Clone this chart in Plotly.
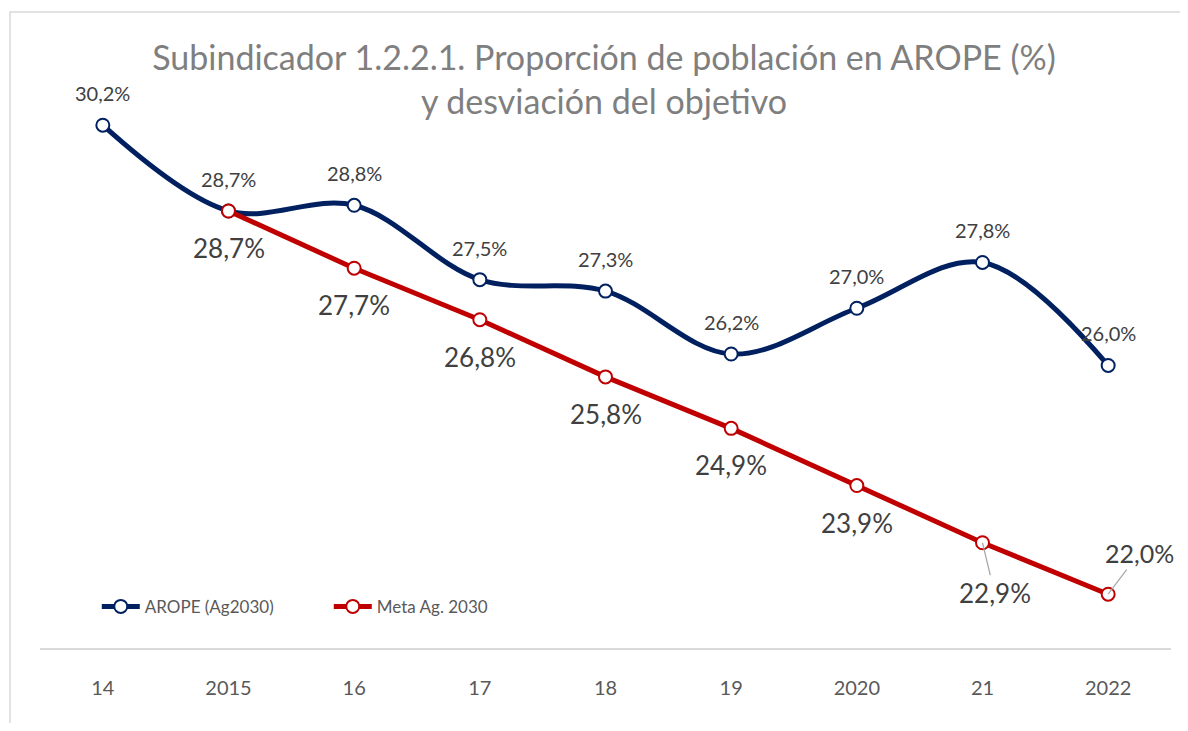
import plotly.graph_objects as go

years = ["14", "2015", "16", "17", "18", "19", "2020", "21", "2022"]
arope = [30.2, 28.7, 28.8, 27.5, 27.3, 26.2, 27.0, 27.8, 26.0]
meta_years = ["2015", "16", "17", "18", "19", "2020", "21", "2022"]
meta = [28.7, 27.7, 26.8, 25.8, 24.9, 23.9, 22.9, 22.0]

NAVY = "#002060"
RED = "#C00000"
TXT = "#404040"
FONT = "Lato"

W, H = 1172, 715


def fmt(v):
    return f"{v:.1f}".replace(".", ",") + "%"


fig = go.Figure()
fig.add_trace(go.Scatter(
    x=years, y=arope, name="AROPE (Ag2030)", mode="lines+markers",
    line=dict(color=NAVY, width=5, shape="spline", smoothing=1.0),
    marker=dict(symbol="circle", size=13, color="white", line=dict(color=NAVY, width=2)),
    hoverinfo="skip",
))
fig.add_trace(go.Scatter(
    x=meta_years, y=meta, name="Meta Ag. 2030", mode="lines+markers",
    line=dict(color=RED, width=5),
    marker=dict(symbol="circle", size=13, color="white", line=dict(color=RED, width=2)),
    hoverinfo="skip",
))

annotations = []
for x, v in zip(years, arope):
    annotations.append(dict(x=years.index(x), y=v, text=fmt(v), showarrow=False, yshift=32,
                            font=dict(family=FONT, size=20, color=TXT)))

for x, v in zip(meta_years, meta):
    xi = years.index(x)
    if x == "21":
        annotations.append(dict(x=xi, y=v, text=fmt(v), showarrow=True, arrowhead=0,
                                arrowcolor="#a6a6a6", arrowwidth=1.2, ax=12, ay=50,
                                standoff=0, startstandoff=0,
                                font=dict(family=FONT, size=26, color=TXT)))
    elif x == "2022":
        annotations.append(dict(x=xi, y=v, text=fmt(v), showarrow=True, arrowhead=0,
                                arrowcolor="#a6a6a6", arrowwidth=1.2, ax=31, ay=-41,
                                standoff=0, startstandoff=0,
                                font=dict(family=FONT, size=25, color=TXT)))
    else:
        annotations.append(dict(x=xi, y=v, text=fmt(v), showarrow=False, yshift=-37,
                                font=dict(family=FONT, size=26, color=TXT)))

fig.update_layout(
    width=W, height=H,
    margin=dict(l=32, r=9, t=52, b=75),
    paper_bgcolor="white", plot_bgcolor="white",
    font=dict(family=FONT, color="#595959"),
    title=dict(
        text="Subindicador 1.2.2.1. Proporción de población en AROPE (%)<br>y desviación del objetivo",
        x=(604 - 8) / W, xanchor="center", y=1 - 62 / H, yanchor="middle",
        font=dict(family=FONT, size=34, color="#7f7f7f"),
    ),
    showlegend=True,
    legend=dict(orientation="h", x=0.0502, xanchor="left", y=0.07, yanchor="middle",
                font=dict(family=FONT, size=17, color="#595959"),
                itemwidth=38, entrywidth=179, entrywidthmode="pixels",
                bgcolor="rgba(0,0,0,0)"),
    annotations=annotations,
    shapes=[dict(type="rect", xref="paper", yref="paper",
                 x0=-30 / 1131, x1=1.05, y0=-0.2, y1=(648 - 12) / 588,
                 line=dict(color="#d9d9d9", width=1.5), layer="below")],
)
fig.update_xaxes(type="category", categoryorder="array", categoryarray=years,
                 range=[-0.5, 8.5], showline=True, linecolor="#d9d9d9", linewidth=1.5,
                 showgrid=False, zeroline=False, ticks="", ticklabelstandoff=21,
                 tickfont=dict(family=FONT, size=20, color="#595959"))
fig.update_yaxes(range=[21.06, 31.34], visible=False, showgrid=False)

fig.write_html("out.html")
